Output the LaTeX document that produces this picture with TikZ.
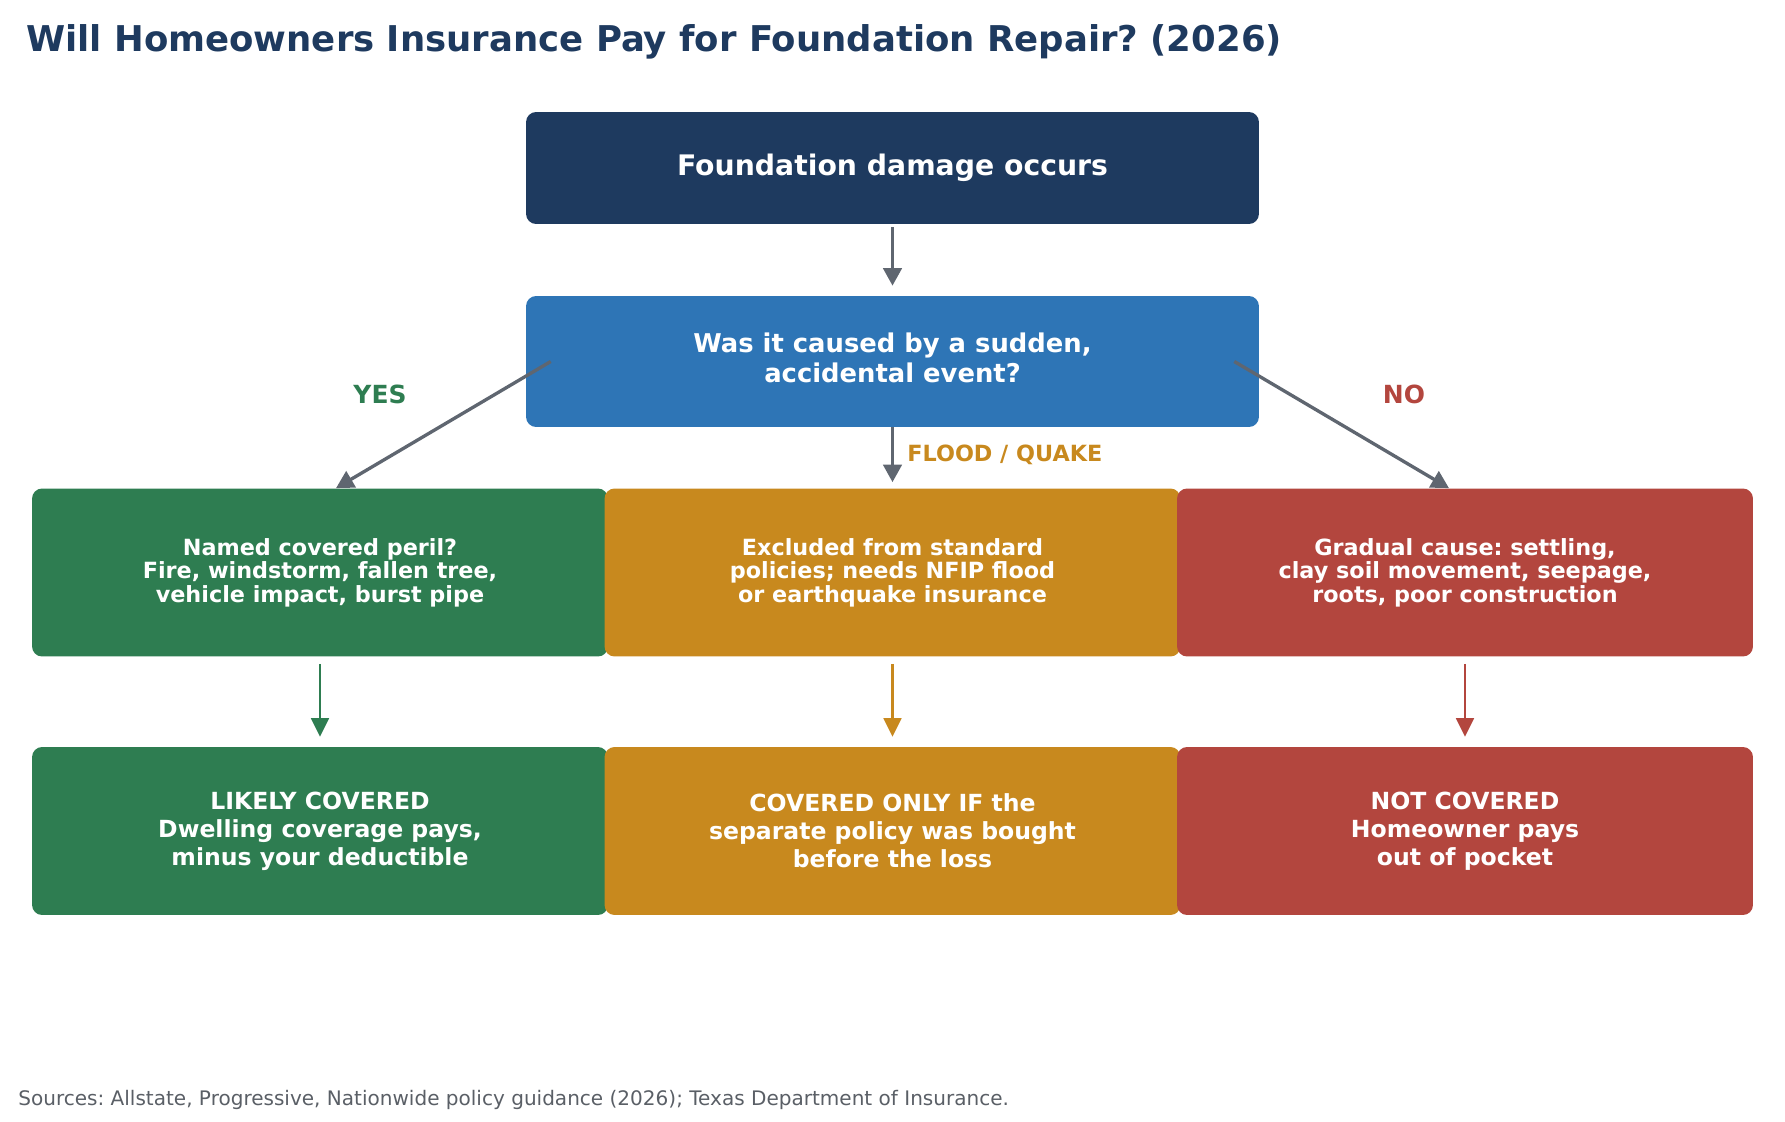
\documentclass[tikz,border=0pt]{standalone}
\usepackage{fontspec}
\setmainfont{DejaVu Sans}
\usetikzlibrary{arrows.meta}
\frenchspacing

\definecolor{navy}{HTML}{1E3A5F}
\definecolor{askblue}{HTML}{2E75B6}
\definecolor{okgreen}{HTML}{2E7D51}
\definecolor{maybegold}{HTML}{C8891E}
\definecolor{nored}{HTML}{B3463E}
\definecolor{arrowgray}{HTML}{5F6670}
\definecolor{notegray}{HTML}{5A5F66}

\begin{document}
\begin{tikzpicture}[x=0.02cm,y=-0.02cm,
  box/.style={rounded corners=0.2cm,text=white,align=center,inner sep=0pt},
  wide/.style={box,minimum width=14.66cm},
  cell/.style={box,minimum width=11.52cm,minimum height=3.36cm},
  causetext/.style={font=\fontsize{12.7}{13.3}\selectfont\bfseries},
  endtext/.style={font=\fontsize{13.4}{15.9}\selectfont\bfseries},
  flow/.style={-{Triangle[length=10pt,width=10.5pt]},line width=1.9pt,draw=arrowgray},
  result/.style={-{Triangle[length=10.5pt,width=10pt]},line width=1.6pt,shorten <=0.14cm,shorten >=0.2cm},
  branch/.style={font=\fontsize{14.2}{17}\selectfont\bfseries}]

\useasboundingbox (0,0) rectangle (1785,1122);

\node[anchor=base west,inner sep=0pt,text=navy,font=\fontsize{20.2}{24}\selectfont\bfseries] (title) at (26,52) {Will Homeowners Insurance Pay for Foundation Repair? (2026)};

\node[wide,fill=navy,minimum height=2.24cm,font=\fontsize{16.1}{19}\selectfont\bfseries] (start) at (892.5,168) {Foundation damage occurs};
\node[wide,fill=askblue,minimum height=2.62cm,font=\fontsize{14.7}{17}\selectfont\bfseries] (cause) at (892.5,361.5) {Was it caused by a sudden,\\ accidental event?\rule[-4pt]{0pt}{0pt}};

\node[cell,fill=okgreen,causetext] (peril) at (320,572.5) {Named covered peril?\\ Fire, windstorm, fallen tree,\\ vehicle impact, burst pipe};
\node[cell,fill=maybegold,causetext] (flood) at (892.5,572.5) {Excluded from standard\\ policies; needs NFIP flood\\ or earthquake insurance};
\node[cell,fill=nored,causetext] (gradual) at (1465,572.5) {Gradual cause: settling,\\ clay soil movement, seepage,\\ roots, poor construction};

\node[cell,fill=okgreen,endtext] (likely) at (320,831) {LIKELY COVERED\\ Dwelling coverage pays,\\ minus your deductible};
\node[cell,fill=maybegold,endtext] (onlyif) at (892.5,831) {COVERED ONLY IF the\\ separate policy was bought\\ before the loss};
\node[cell,fill=nored,endtext] (notcov) at (1465,831) {NOT COVERED\\ Homeowner pays\\ out of pocket};

\draw[flow,shorten <=0.06cm,shorten >=0.2cm] (start) -- (cause);
\draw[flow] ([xshift=0.5cm]cause.west) -- ([xshift=0.32cm]peril.north);
\draw[flow,shorten >=0.12cm] (cause) -- (flood);
\draw[flow] ([xshift=-0.5cm]cause.east) -- ([xshift=-0.32cm]gradual.north);

\node[branch,text=okgreen] (yes) at (380,394) {YES};
\node[branch,text=nored] (no) at (1404,394) {NO};
\node[anchor=west,inner sep=0pt,text=maybegold,font=\fontsize{12.7}{15}\selectfont\bfseries] (quake) at (907,455) {FLOOD / QUAKE};

\draw[result,okgreen] (peril) -- (likely);
\draw[result,maybegold] (flood) -- (onlyif);
\draw[result,nored] (gradual) -- (notcov);

\node[anchor=base west,inner sep=0pt,text=notegray,font=\fontsize{11.4}{14}\selectfont] (sources) at (18,1105) {Sources: Allstate, Progressive, Nationwide policy guidance (2026); Texas Department of Insurance.};

\end{tikzpicture}
\end{document}
